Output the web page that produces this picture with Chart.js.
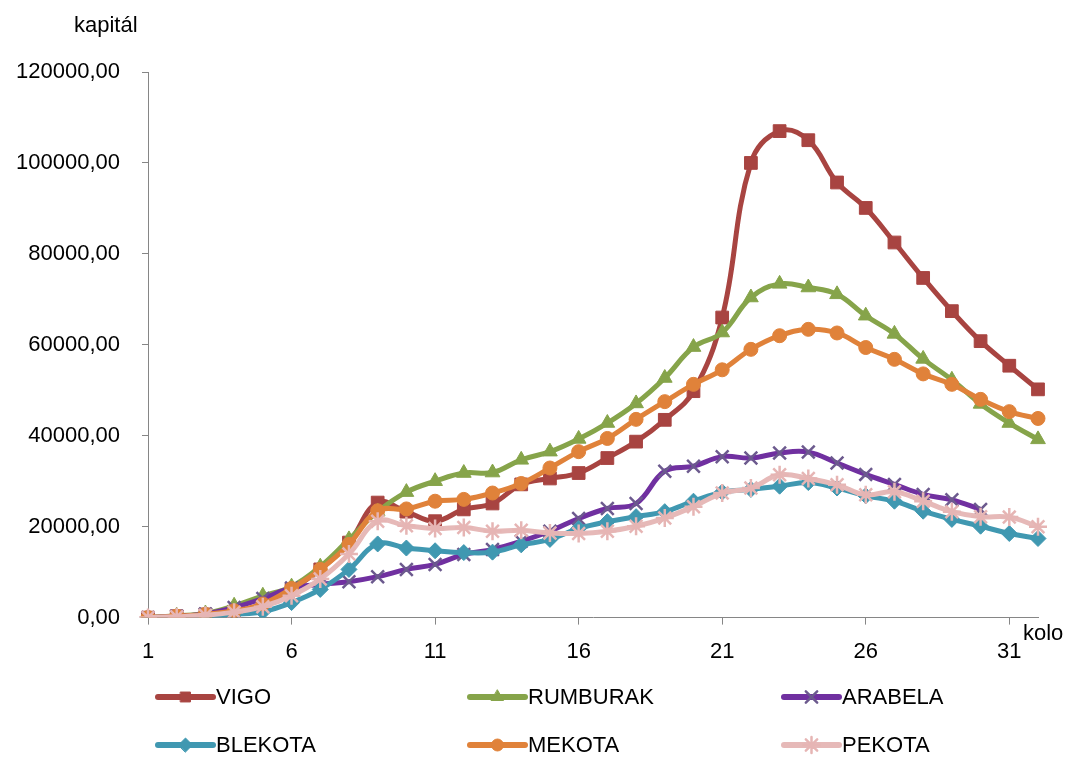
<!DOCTYPE html>
<html>
<head>
<meta charset="utf-8">
<script src="https://cdn.jsdelivr.net/npm/chart.js@4/dist/chart.umd.min.js"></script>
<style>
  html, body { margin: 0; padding: 0; background: #fff; }
  #wrap { width: 1067px; height: 758px; position: relative; }
</style>
</head>
<body>
<div id="wrap"><canvas id="c"></canvas></div>
<script>
// Rounds (kolo) 1..32
const rounds = Array.from({ length: 32 }, (_, i) => String(i + 1));

// Capital per player and round
const vigo = [0, 300, 700, 1300, 3000, 6200, 10600, 16500, 25300, 23300, 21200, 23800, 25100, 29300, 30600, 31800,
  35100, 38700, 43500, 49800, 66000, 100000, 107000, 105000, 95700, 90100, 82500, 74700, 67400, 60800, 55400, 50200];
const rumburak = [0, 400, 900, 2600, 4800, 6800, 11200, 17200, 23300, 27600, 30000, 31800, 31900, 34700, 36500, 39300,
  42800, 47100, 52700, 59500, 62700, 70400, 73400, 72600, 71100, 66400, 62400, 56900, 52300, 47000, 42800, 39200];
const arabela = [0, 300, 800, 2200, 4200, 6500, 7300, 7900, 9000, 10600, 11700, 13900, 15000, 16800, 19000, 21800,
  24000, 25100, 32200, 33300, 35400, 35100, 36200, 36400, 34000, 31500, 29300, 27100, 25900, 23800, null, null];
const blekota = [0, 100, 300, 700, 1300, 3300, 6200, 10600, 16200, 15300, 14700, 14300, 14400, 16000, 17200, 19600,
  21100, 22200, 23300, 25600, 27600, 28200, 28900, 29700, 28500, 26800, 25600, 23400, 21600, 20100, 18500, 17400];
const mekota = [0, 300, 700, 1500, 3000, 6400, 10600, 16100, 23500, 23900, 25600, 26000, 27400, 29500, 32900, 36500,
  39400, 43600, 47500, 51300, 54500, 59000, 62000, 63400, 62600, 59400, 56800, 53600, 51300, 48000, 45300, 43800];
const pekota = [0, 200, 500, 1200, 2400, 4800, 8500, 14000, 21200, 20200, 19600, 19800, 19000, 19200, 18600, 18500,
  19000, 20100, 21900, 24400, 27400, 28500, 31400, 30600, 29200, 27000, 27700, 25600, 23300, 22200, 22100, 20000];

const seriesNames = ['VIGO', 'RUMBURAK', 'ARABELA', 'BLEKOTA', 'MEKOTA', 'PEKOTA'];
const seriesValues = [vigo, rumburak, arabela, blekota, mekota, pekota];

// Visual style of each series
const styles = [
  { line: '#A84441', fill: '#A84441', edge: '#A84441', shape: 'rect', r: 9, bw: 1, lr: 7 },
  { line: '#86A44A', fill: '#86A44A', edge: '#86A44A', shape: 'triangle', r: 8.5, bw: 1, lr: 7 },
  { line: '#7030A0', fill: '#6C5A8E', edge: '#6C5A8E', shape: 'crossRot', r: 9, bw: 2.5, lr: 8 },
  { line: '#4098B1', fill: '#4098B1', edge: '#4098B1', shape: 'rectRot', r: 8, bw: 1, lr: 7 },
  { line: '#E0823A', fill: '#E0823A', edge: '#E0823A', shape: 'circle', r: 7, bw: 1, lr: 6 },
  { line: '#E6B9B8', fill: '#E6B5B4', edge: '#E6B5B4', shape: 'star', r: 9, bw: 2.5, lr: 8 }
];

const FONT = 'Liberation Sans';
const axisGray = '#868686';

const datasets = seriesNames.map((name, i) => ({
  label: name,
  data: seriesValues[i],
  borderColor: styles[i].line,
  backgroundColor: styles[i].fill,
  borderWidth: 5,
  tension: 0.4,
  pointStyle: styles[i].shape,
  pointRadius: styles[i].r,
  pointBackgroundColor: styles[i].fill,
  pointBorderColor: styles[i].edge,
  pointBorderWidth: styles[i].bw,
  order: seriesNames.length - i,
  spanGaps: false
}));

// Axis captions and the bottom legend, painted on the canvas
const decorations = {
  id: 'decorations',
  afterDraw(chart) {
    const ctx = chart.ctx;
    ctx.save();
    ctx.fillStyle = '#000';
    ctx.font = '22px "' + FONT + '"';
    ctx.textAlign = 'left';
    ctx.textBaseline = 'alphabetic';
    ctx.fillText('kapitál', 74, 32);
    ctx.fillText('kolo', 1023, 640);

    const cols = [158, 470, 784];
    const rows = [697, 745];
    seriesNames.forEach((name, i) => {
      const x0 = cols[i % 3];
      const y = rows[Math.floor(i / 3)];
      const st = styles[i];
      ctx.strokeStyle = st.line;
      ctx.lineWidth = 6;
      ctx.lineCap = 'round';
      ctx.beginPath();
      ctx.moveTo(x0, y);
      ctx.lineTo(x0 + 55, y);
      ctx.stroke();
      ctx.fillStyle = st.fill;
      ctx.strokeStyle = st.edge;
      ctx.lineWidth = st.bw;
      Chart.helpers.drawPoint(ctx, { pointStyle: st.shape, rotation: 0, radius: st.lr, borderWidth: st.bw }, x0 + 27.5, y);
      ctx.fillStyle = '#000';
      ctx.textBaseline = 'middle';
      ctx.fillText(name, x0 + 58, y + 1);
    });
    ctx.restore();
  }
};

new Chart(document.getElementById('c'), {
  type: 'line',
  data: { labels: rounds, datasets },
  plugins: [decorations],
  options: {
    responsive: true,
    maintainAspectRatio: false,
    animation: false,
    layout: { padding: { top: 72, right: 29, bottom: 79, left: 0 } },
    plugins: { legend: { display: false }, tooltip: { enabled: false } },
    scales: {
      x: {
        type: 'category',
        offset: false,
        border: { color: axisGray, width: 1 },
        grid: {
          drawOnChartArea: false,
          tickLength: 7,
          tickColor: (c) => (c.index % 5 === 0 ? axisGray : 'rgba(0,0,0,0)')
        },
        ticks: {
          autoSkip: false,
          maxRotation: 0,
          padding: 14,
          color: '#000',
          font: { family: FONT, size: 22 },
          callback: function (v, idx) { return idx % 5 === 0 ? this.getLabelForValue(v) : ''; }
        }
      },
      y: {
        min: 0,
        max: 120000,
        border: { color: axisGray, width: 1 },
        grid: { drawOnChartArea: false, tickLength: 6, color: axisGray },
        afterFit(scale) { scale.width = 148; },
        ticks: {
          stepSize: 20000,
          padding: 22,
          color: '#000',
          font: { family: FONT, size: 22 },
          callback: (v) => v.toFixed(2).replace('.', ',')
        }
      }
    }
  }
});
</script>
</body>
</html>
